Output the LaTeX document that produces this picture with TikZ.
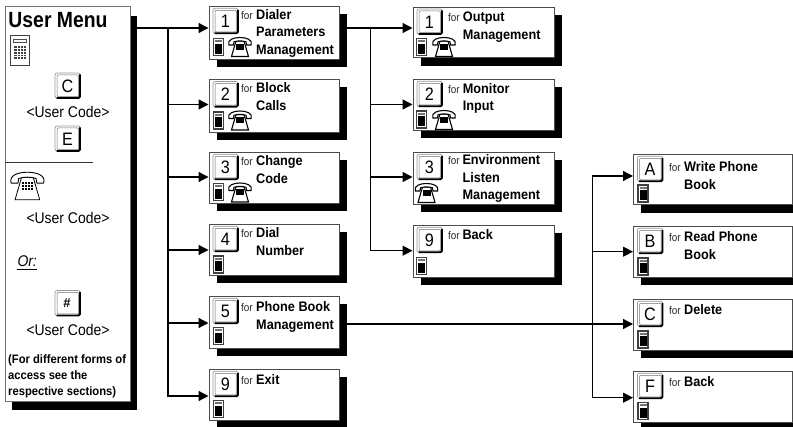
\documentclass[tikz,border=0pt]{standalone}
\usepackage{fontspec}
\setmainfont{Liberation Sans}
\newfontfamily\condfont{Liberation Sans}[FakeStretch=0.9]
\newfontfamily\condbfont{Liberation Sans}[FakeStretch=0.92]
\usetikzlibrary{arrows.meta,calc}
\tikzset{
  boxframe/.style={draw=black!70,line width=0.9pt,fill=white,inner sep=0pt,anchor=north west},
  shadowfill/.style={fill=black,draw=none,inner sep=0pt,anchor=north west},
  conn/.style={line width=1.3pt,black},
  arr/.style={conn,-{Triangle[length=10pt,width=10pt]}},
  forlabel/.style={anchor=base west,inner sep=0pt,font=\condfont\fontsize{11}{12}\selectfont,text=black!85},
  boldlabel/.style={anchor=base west,inner sep=0pt,font=\condbfont\fontsize{13.8}{17.5}\selectfont\bfseries},
  plainlabel/.style={anchor=base,inner sep=0pt,font=\condfont\fontsize{15.5}{16}\selectfont},
  notelabel/.style={anchor=base west,inner sep=0pt,font=\condbfont\fontsize{12.2}{16}\selectfont\bfseries},
  keyletter/.style={inner sep=0pt,font=\condfont\fontsize{18}{18}\selectfont}
}
% key cap: top-left corner x,y ; name ; letter
\newcommand{\keycap}[4]{%
  \draw[rounded corners=2pt,draw=black!40,line width=0.7pt,fill=white] (#1,#2) rectangle ++(25,25);
  \draw[rounded corners=1pt,draw=black!55,line width=0.5pt] (#1+2,#2+2) rectangle ++(21.5,21.5);
  \draw[line width=1.9pt,black,rounded corners=1.5pt] (#1+25,#2+1.5) -- (#1+25,#2+25) -- (#1+1.5,#2+25);
  \node[keyletter] (#3) at (#1+12.5,#2+13) {#4};
}
\newcommand{\smallpad}[2]{%
  \draw[draw=black!75,line width=1.1pt,fill=white] (#1+0.5,#2+0.5) rectangle ++(10,17);
  \fill[black!55] (#1+2,#2+2.2) rectangle ++(7,2.2);
  \fill[black] (#1+2,#2+6) rectangle ++(7,10);
}
% telephone icon, x y = top-left, s = scale
\newcommand{\phoneicon}[3]{%
  \begin{scope}[shift={(#1,#2)},scale=#3]
    \draw[black,line width=1.1pt,fill=white] (8,4) -- (16,4) -- (20.5,19.5) -- (3.5,19.5) -- cycle;
    \fill[black] (8,7) rectangle (16,13);
    \draw[black,line width=1.1pt,fill=white,line join=round] (0.8,8) .. controls (-1,2.5) and (6,0.5) .. (12,0.5) .. controls (18,0.5) and (25,2.5) .. (23.2,8) -- (18.5,8) -- (18,4.8) .. controls (14,3.6) and (10,3.6) .. (6,4.8) -- (5.5,8) -- cycle;
  \end{scope}
}
% name, left, top, right, bottom, arrow y, key
\newcommand{\menuitem}[7]{%
  \node[shadowfill,minimum width=#4-#2 pt,minimum height=#5-#3 pt] (#1s) at (#2+8,#3+8) {};
  \node[boxframe,minimum width=#4-#2 pt,minimum height=#5-#3 pt] (#1) at (#2,#3) {};
  \coordinate (#1in) at (#2,#6);
  \coordinate (#1out) at (#4+8,#6);
  \keycap{#2+4.5}{#3+2.3}{#1k}{#7}
}
\newcommand{\itemtext}[5]{%
  \node[forlabel] (#1f) at (#2,#4) {for};
  \node[boldlabel] (#1t) at (#3,#4) {\begin{tabular}[t]{@{}l@{}}#5\end{tabular}};
}
\begin{document}
\begin{tikzpicture}[x=1pt,y=-1pt]
\useasboundingbox (0,0) rectangle (793,427);
\clip (0,0) rectangle (793,427);
\fill[white] (0,0) rectangle (793,427);

% --- user menu panel
\node[shadowfill,minimum width=125pt,minimum height=394pt] (menus) at (12,16) {};
\node[boxframe,draw=black!55,minimum width=125pt,minimum height=395pt] (menu) at (4.5,6) {};
\coordinate (menuout) at (137,28);
\node[anchor=base west,inner sep=0pt] (menutitle) at (8.3,27.5) {\fontspec{Liberation Sans}[FakeStretch=0.88]\fontsize{22}{24}\selectfont\bfseries User Menu};
% large keypad
\draw[black!75,line width=0.8pt,fill=white] (10.3,35.3) rectangle (29,65);
\draw[black!70,line width=0.7pt] (13,39.5) rectangle (26.5,42);
\fill[black!75] (14,46) rectangle (26,59);
\foreach \i in {1,...,3} {\draw[white,line width=0.5pt] (14+\i*3,46) -- (14+\i*3,59);}
\foreach \i in {1,...,4} {\draw[white,line width=0.5pt] (14,46+\i*2.6) -- (26,46+\i*2.6);}
\keycap{55}{73}{keyC}{C}
\node[plainlabel] (code1) at (68,118) {<User Code>};
\keycap{55}{126}{keyE}{E}
\draw[black!80,line width=0.8pt] (5,162.3) -- (93,162.3);
\begin{scope}[shift={(10,171.5)},scale=1.45]
  \draw[black,line width=0.8pt,fill=white] (8,4) -- (16,4) -- (20.5,19.5) -- (3.5,19.5) -- cycle;
  \fill[black] (8,7) rectangle (16,13);
  \foreach \i in {1,2,3} {\draw[white,line width=0.4pt] (8+\i*2,7) -- (8+\i*2,13);}
  \foreach \i in {1,2} {\draw[white,line width=0.4pt] (8,7+\i*2) -- (16,7+\i*2);}
  \draw[black,line width=0.9pt,fill=white,line join=round] (0.8,8) .. controls (-1,2.5) and (6,0.5) .. (12,0.5) .. controls (18,0.5) and (25,2.5) .. (23.2,8) -- (18.5,8) -- (18,4.8) .. controls (14,3.6) and (10,3.6) .. (6,4.8) -- (5.5,8) -- cycle;
\end{scope}
\node[plainlabel] (code2) at (68,224) {<User Code>};
\node[anchor=base west,inner sep=0pt,font=\condfont\fontsize{15.5}{16}\selectfont\itshape] (orlabel) at (17.3,266.5) {Or:};
\draw[black,line width=0.8pt] (17,269.5) -- (37,269.5);
\keycap{55}{290.5}{keyH}{}
\node[inner sep=0pt,font=\fontsize{13}{13}\selectfont\bfseries] (keyHash) at (67,303) {\#};
\node[plainlabel] (code3) at (68,335.7) {<User Code>};
\node[notelabel] (note) at (8,364) {\begin{tabular}[t]{@{}l@{}}(For different forms of\\access see the\\respective sections)\end{tabular}};

% --- first level
\menuitem{a}{208.5}{6}{339}{59}{28}{1}
\smallpad{213}{38}\phoneicon{228}{37}{1}
\itemtext{a}{241}{256}{19.3}{Dialer\\Parameters\\Management}
\menuitem{b}{208.5}{79.3}{339}{132}{104.5}{2}
\smallpad{213}{111.5}\phoneicon{228}{110.5}{1}
\itemtext{b}{241}{256}{93}{Block\\Calls}
\menuitem{c}{208.5}{152}{339}{203}{177}{3}
\smallpad{213}{183}\phoneicon{228}{182.5}{1}
\itemtext{c}{241}{256}{165.7}{Change\\Code}
\menuitem{d}{208.5}{224}{339}{275}{250}{4}
\smallpad{213}{255.5}
\itemtext{d}{241}{256}{237.7}{Dial\\Number}
\menuitem{e}{208.5}{296}{339}{348}{323}{5}
\smallpad{213}{327}
\itemtext{e}{241}{256}{311.7}{Phone Book\\Management}
\menuitem{f}{208.5}{369}{339}{420}{396}{9}
\smallpad{213}{400}
\itemtext{f}{241}{256}{385}{Exit}

% --- second level
\menuitem{g}{412.5}{6.7}{554}{57.5}{28}{1}
\smallpad{416}{38}\phoneicon{432}{37}{1}
\itemtext{g}{448}{462.7}{21.7}{Output\\Management}
\menuitem{h}{412.5}{79}{554}{130}{104.5}{2}
\smallpad{416}{110.5}\phoneicon{432}{110}{1}
\itemtext{h}{448}{462.7}{93.5}{Monitor\\Input}
\menuitem{i}{412.5}{152}{554}{204}{177}{3}
\phoneicon{414.5}{183}{1}
\itemtext{i}{448}{462.3}{165}{Environment\\Listen\\Management}
\menuitem{j}{412.5}{225}{554}{277}{250.7}{9}
\smallpad{416}{257}
\itemtext{j}{448}{462.3}{239.3}{Back}

% --- third level
\menuitem{k}{633}{154}{792}{204.5}{176}{A}
\smallpad{637.5}{184.5}
\itemtext{k}{669}{684}{171.7}{Write Phone\\Book}
\menuitem{l}{633}{226}{792}{277}{251.7}{B}
\smallpad{637.5}{257.5}
\itemtext{l}{669}{684}{241.7}{Read Phone\\Book}
\menuitem{m}{633}{299}{792}{350}{324}{C}
\smallpad{637.5}{330.5}
\itemtext{m}{669}{684}{315}{Delete}
\menuitem{n}{633}{371}{792}{422.5}{397.7}{F}
\smallpad{637.5}{402}
\itemtext{n}{669}{684}{386.7}{Back}

% --- connectors
\coordinate (ja) at (168,28);
\coordinate (jb) at (168,104.5);
\coordinate (jc) at (168,177);
\coordinate (jd) at (168,250);
\coordinate (je) at (168,323);
\coordinate (jf) at (168,396);
\draw[conn] (menuout) -- (ja);
\draw[conn,line cap=rect] (ja) -- (jf);
\draw[arr] (ja) -- (ain);
\draw[arr] (jb) -- (bin);
\draw[arr] (jc) -- (cin);
\draw[arr] (jd) -- (din);
\draw[arr] (je) -- (ein);
\draw[arr] (jf) -- (fin);

\coordinate (jg) at (370.7,28);
\coordinate (jh) at (370.7,104.5);
\coordinate (ji) at (370.7,177);
\coordinate (jj) at (370.7,250.7);
\draw[conn] (aout) -- (jg);
\draw[conn,line cap=rect] (jg) -- (jj);
\draw[arr] (jg) -- (gin);
\draw[arr] (jh) -- (hin);
\draw[arr] (ji) -- (iin);
\draw[arr] (jj) -- (jin);

\coordinate (jk) at (592.7,176);
\coordinate (jl) at (592.7,251.7);
\coordinate (jm) at (592.7,324);
\coordinate (jn) at (592.7,397.7);
\coordinate (eoutm) at (347,324);
\draw[conn] (eoutm) -- (jm);
\draw[conn,line cap=rect] (jk) -- (jn);
\draw[arr] (jk) -- (kin);
\draw[arr] (jl) -- (lin);
\draw[arr] (jm) -- (min);
\draw[arr] (jn) -- (nin);
\end{tikzpicture}
\end{document}
